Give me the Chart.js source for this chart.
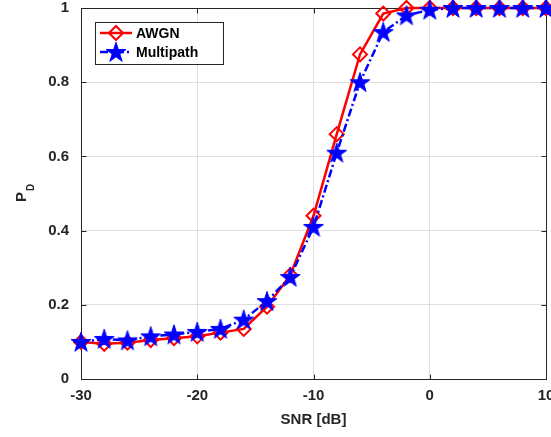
<!DOCTYPE html>
<html>
<head>
<meta charset="utf-8">
<script src="https://cdn.jsdelivr.net/npm/chart.js@4.4.1/dist/chart.umd.min.js"></script>
<style>
  html, body { margin: 0; padding: 0; overflow: hidden; background: #fff; width: 551px; height: 437px; }
  #wrap { position: relative; width: 551px; height: 437px; overflow: hidden; }
  canvas { position: absolute; left: 0; top: -5px; }
</style>
</head>
<body>
<div id="wrap"><canvas id="pdChart" width="560" height="442"></canvas></div>
<script>
// datos
const snr = [-30, -28, -26, -24, -22, -20, -18, -16, -14, -12, -10, -8, -6, -4, -2, 0, 2, 4, 6, 8, 10];
const pdAwgn = [0.10, 0.095, 0.098, 0.105, 0.11, 0.115, 0.125, 0.135, 0.195, 0.28, 0.44, 0.66, 0.875, 0.985, 1.0, 1.0, 1.0, 1.0, 1.0, 1.0, 1.0];
const pdMultipath = [0.10, 0.108, 0.104, 0.115, 0.12, 0.127, 0.135, 0.16, 0.21, 0.275, 0.41, 0.61, 0.80, 0.935, 0.98, 0.995, 1.0, 1.0, 1.0, 1.0, 1.0];
const xTicks = [-30, -20, -10, 0, 10];
const xTickLabels = ['-30', '-20', '-10', '0', '10'];
const yTicks = [0, 0.2, 0.4, 0.6, 0.8, 1];
const yTickLabels = ['0', '0.2', '0.4', '0.6', '0.8', '1'];
const seriesNames = ['AWGN', 'Multipath'];

const fontFam = '"Liberation Sans", Arial, Helvetica, sans-serif';
const textColor = '#262626';
const shiftY = 5; // el canvas esta subido 5px

// estrella rellena (pentagrama) como imagen para el marcador
function makeStar(size, color) {
    const c = document.createElement('canvas');
    c.width = size; c.height = size;
    const g = c.getContext('2d');
    const cx = size / 2, cy = size / 2 + 0.8;
    const ro = size / 2 - 0.5, ri = ro * 0.382;
    g.beginPath();
    for (let i = 0; i < 10; i++) {
        const r = i % 2 === 0 ? ro : ri;
        const a = -Math.PI / 2 + i * Math.PI / 5;
        const px = cx + r * Math.cos(a), py = cy + r * Math.sin(a);
        if (i === 0) g.moveTo(px, py); else g.lineTo(px, py);
    }
    g.closePath();
    g.fillStyle = color;
    g.fill();
    g.strokeStyle = color;
    g.lineWidth = 1;
    g.stroke();
    return c;
}
const starImg = makeStar(22, '#0000ff');

function drawDiamond(ctx, x, y, r) {
    ctx.beginPath();
    ctx.moveTo(x, y - r);
    ctx.lineTo(x + r, y);
    ctx.lineTo(x, y + r);
    ctx.lineTo(x - r, y);
    ctx.closePath();
    ctx.stroke();
}

// caja, marcas interiores, titulo del eje y y leyenda
const matlabBox = {
    id: 'matlabBox',
    beforeDatasetsDraw(chart) {
        const { ctx, chartArea: a } = chart;
        const l = Math.round(a.left) + 0.5, t = Math.round(a.top) + 0.5;
        const r = Math.round(a.right) + 0.5, b = Math.round(a.bottom) + 0.5;
        ctx.save();
        ctx.strokeStyle = '#262626';
        ctx.lineWidth = 1;
        ctx.strokeRect(l, t, r - l, b - t);
        const tl = 5;
        ctx.beginPath();
        xTicks.forEach(v => {
            const px = Math.round(chart.scales.x.getPixelForValue(v)) + 0.5;
            ctx.moveTo(px, b); ctx.lineTo(px, b - tl);
            ctx.moveTo(px, t); ctx.lineTo(px, t + tl);
        });
        yTicks.forEach(v => {
            const py = Math.round(chart.scales.y.getPixelForValue(v)) + 0.5;
            ctx.moveTo(l, py); ctx.lineTo(l + tl, py);
            ctx.moveTo(r, py); ctx.lineTo(r - tl, py);
        });
        ctx.stroke();
        ctx.restore();
    },
    afterDraw(chart) {
        const { ctx, chartArea: a } = chart;
        ctx.save();
        // titulo eje y: P con subindice D
        const cy = (a.top + a.bottom) / 2;
        ctx.translate(26, cy);
        ctx.rotate(-Math.PI / 2);
        ctx.fillStyle = textColor;
        ctx.textBaseline = 'alphabetic';
        ctx.font = 'bold 15px ' + fontFam;
        const wp = ctx.measureText('P').width;
        ctx.font = 'bold 10px ' + fontFam;
        const wd = ctx.measureText('D').width;
        const x0 = -(wp + wd) / 2;
        ctx.font = 'bold 15px ' + fontFam;
        ctx.fillText('P', x0, 0);
        ctx.font = 'bold 10px ' + fontFam;
        ctx.fillText('D', x0 + wp + 1, 8);
        ctx.restore();

        // leyenda
        ctx.save();
        const bx = 95.5, by = 22.5 + shiftY, bw = 128, bh = 42;
        ctx.fillStyle = '#fff';
        ctx.fillRect(bx, by, bw, bh);
        ctx.strokeStyle = '#262626';
        ctx.lineWidth = 1;
        ctx.strokeRect(bx, by, bw, bh);
        const rows = [33 + shiftY, 52 + shiftY];
        // AWGN
        ctx.strokeStyle = '#ff0000';
        ctx.lineWidth = 2.5;
        ctx.beginPath();
        ctx.moveTo(100, rows[0]); ctx.lineTo(132, rows[0]);
        ctx.stroke();
        ctx.lineWidth = 2;
        drawDiamond(ctx, 116, rows[0], 7);
        // Multipath
        ctx.strokeStyle = '#0000ff';
        ctx.lineWidth = 2.5;
        ctx.setLineDash([8, 3, 2, 3]);
        ctx.beginPath();
        ctx.moveTo(100, rows[1]); ctx.lineTo(132, rows[1]);
        ctx.stroke();
        ctx.setLineDash([]);
        ctx.drawImage(starImg, 116 - 11, rows[1] - 11);
        ctx.fillStyle = '#000';
        ctx.font = 'bold 14px ' + fontFam;
        ctx.textBaseline = 'middle';
        ctx.fillText(seriesNames[0], 136, rows[0] + 1);
        ctx.fillText(seriesNames[1], 136, rows[1] + 1);
        ctx.restore();
    }
};

const ctx = document.getElementById('pdChart').getContext('2d');
const pdChart = new Chart(ctx, {
    type: 'line',
    data: {
        datasets: [{
            label: seriesNames[0],
            data: snr.map((v, i) => ({ x: v, y: pdAwgn[i] })),
            borderColor: '#ff0000',
            borderWidth: 2.5,
            pointStyle: 'rectRot',
            pointRadius: 7,
            pointBorderWidth: 2,
            pointBorderColor: '#ff0000',
            pointBackgroundColor: 'rgba(0,0,0,0)',
            tension: 0,
            clip: false,
            order: 1
        }, {
            label: seriesNames[1],
            data: snr.map((v, i) => ({ x: v, y: pdMultipath[i] })),
            borderColor: '#0000ff',
            borderWidth: 2.5,
            borderDash: [8, 3, 2, 3],
            pointStyle: starImg,
            pointRadius: 10,
            tension: 0,
            clip: false,
            order: 0
        }]
    },
    options: {
        responsive: false,
        animation: false,
        layout: { padding: 0 },
        plugins: {
            legend: { display: false },
            tooltip: { enabled: false }
        },
        scales: {
            x: {
                type: 'linear',
                min: -30,
                max: 10,
                afterBuildTicks: s => { s.ticks = xTicks.map(v => ({ value: v })); },
                afterFit: s => { s.height = 58; s.paddingRight = 14; },
                ticks: {
                    color: textColor,
                    font: { family: fontFam, size: 15, weight: 'bold' },
                    padding: 8,
                    maxRotation: 0,
                    callback: (v, i) => xTickLabels[i]
                },
                grid: { color: '#dedede', lineWidth: 1, drawTicks: false },
                border: { display: false },
                title: {
                    display: true,
                    text: 'SNR [dB]',
                    color: textColor,
                    font: { family: fontFam, size: 15, weight: 'bold' },
                    padding: { top: 0, bottom: 8 }
                }
            },
            y: {
                min: 0,
                max: 1,
                afterBuildTicks: s => { s.ticks = yTicks.map(v => ({ value: v })); },
                afterFit: s => { s.width = 81; s.paddingTop = 13; },
                ticks: {
                    color: textColor,
                    font: { family: fontFam, size: 15, weight: 'bold' },
                    padding: 12,
                    callback: (v, i) => yTickLabels[i]
                },
                grid: { color: '#dedede', lineWidth: 1, drawTicks: false },
                border: { display: false }
            }
        }
    },
    plugins: [matlabBox]
});
</script>
</body>
</html>
